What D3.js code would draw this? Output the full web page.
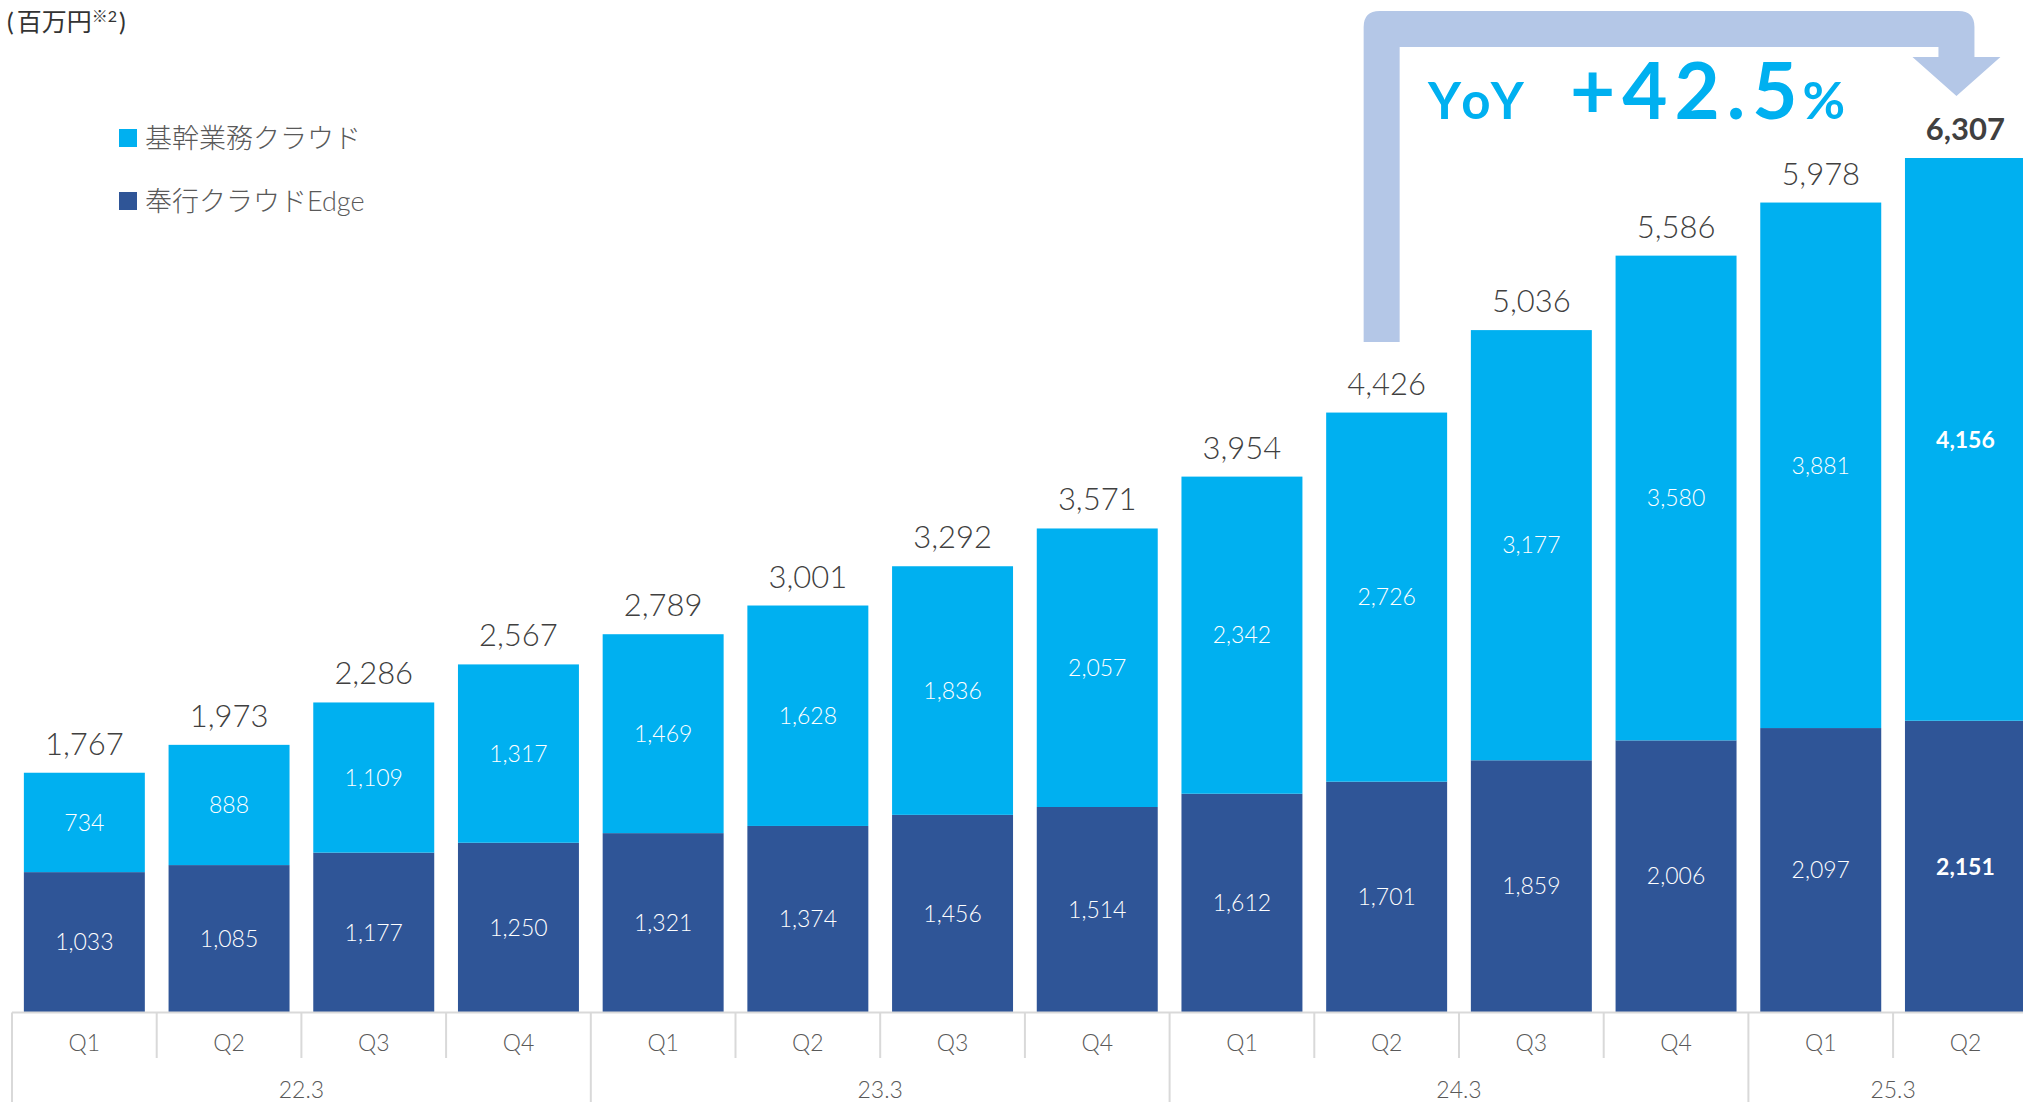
<!DOCTYPE html>
<html><head><meta charset="utf-8">
<script src="https://cdn.jsdelivr.net/npm/d3@7"></script>
<style>
html,body{margin:0;padding:0;background:#fff;overflow:hidden}
svg{display:block}
text{font-family:Lato,"Noto Sans CJK JP",sans-serif}
</style></head><body>
<svg id="c" width="2023" height="1102"></svg>
<script>
const quarters = ["Q1","Q2","Q3","Q4","Q1","Q2","Q3","Q4","Q1","Q2","Q3","Q4","Q1","Q2"];
const fiscalYears = ["22.3","23.3","24.3","25.3"];
const yearCounts = [4,4,4,2];
const edge = [1033,1085,1177,1250,1321,1374,1456,1514,1612,1701,1859,2006,2097,2151];
const kikan = [734,888,1109,1317,1469,1628,1836,2057,2342,2726,3177,3580,3881,4156];
const totals = [1767,1973,2286,2567,2789,3001,3292,3571,3954,4426,5036,5586,5978,6307];
const seriesNames = ["基幹業務クラウド","奉行クラウドEdge"];
const colors = {kikan:"#00B0F0", edge:"#2F5597", arrow:"#B4C7E7"};
const yoyText = {label:"YoY", value:"+42.5", unit:"%"};

(function(){
const svg = d3.select("#c");
const idx = d3.range(quarters.length);
const x = d3.scaleBand().domain(idx).range([12, 12 + 14*144.7]).paddingInner(0.164).paddingOuter(0.082);
const y = d3.scaleLinear().domain([0, 6307]).range([1012, 158]);
const bw = x.bandwidth();
const fmt = d3.format(",");
const last = quarters.length - 1;

const stackData = idx.map(i => ({i, edge: edge[i], kikan: kikan[i]}));
const stack = d3.stack().keys(["edge","kikan"])(stackData);

const g = svg.append("g");
stack.forEach(layer => {
  g.selectAll(null).data(layer).enter().append("rect")
    .attr("x", d => x(d.data.i))
    .attr("y", d => y(d[1]))
    .attr("width", bw)
    .attr("height", d => y(d[0]) - y(d[1]))
    .attr("fill", colors[layer.key]);
  g.selectAll(null).data(layer).enter().append("text")
    .attr("x", d => x(d.data.i) + bw/2)
    .attr("y", d => (y(d[0]) + y(d[1]))/2)
    .attr("dy", "0.36em")
    .attr("text-anchor", "middle")
    .attr("fill", "#fff")
    .attr("font-size", 23)
    .attr("font-weight", d => d.data.i === last ? 700 : 300)
    .text(d => fmt(d.data[layer.key]));
});

g.selectAll(null).data(idx).enter().append("text")
  .attr("x", i => x(i) + bw/2)
  .attr("y", i => y(totals[i]) - 18)
  .attr("text-anchor", "middle")
  .attr("fill", "#404040")
  .attr("font-size", 31)
  .attr("font-weight", i => i === last ? 700 : 300)
  .text(i => fmt(totals[i]));

const step = x.step();
const x0 = x.range()[0];
const axisY = 1012.5;
const ax = svg.append("g");
ax.append("line").attr("x1", x0).attr("x2", 2023).attr("y1", axisY).attr("y2", axisY)
  .attr("stroke", "#D9D9D9").attr("stroke-width", 2);
let yearStarts = [0];
yearCounts.forEach((c,k) => yearStarts.push(yearStarts[k] + c));
idx.concat([quarters.length]).forEach(i => {
  const isYear = yearStarts.includes(i);
  ax.append("line").attr("x1", x0 + i*step).attr("x2", x0 + i*step)
    .attr("y1", axisY).attr("y2", isYear ? 1102 : 1058)
    .attr("stroke", "#D9D9D9").attr("stroke-width", 2);
});
const xAxis = d3.axisBottom(x).tickSize(0).tickFormat(i => quarters[i]);
const axG = svg.append("g").attr("transform", `translate(0,${axisY})`).call(xAxis);
axG.select(".domain").remove();
axG.selectAll("text").attr("font-size", 23).attr("fill", "#595959").attr("font-weight", 300)
  .attr("font-family", "Lato").attr("dy", "0").attr("y", 38);
fiscalYears.forEach((fy,k) => {
  const cx = x0 + (yearStarts[k] + yearCounts[k]/2) * step;
  ax.append("text").attr("x", cx).attr("y", 1098).attr("text-anchor", "middle")
    .attr("font-size", 23).attr("fill", "#595959").attr("font-weight", 300).text(fy);
});

const ut = svg.append("text").attr("x", 7).attr("y", 31).attr("font-size", 25).attr("fill", "#333")
  .attr("font-family", "'Noto Sans CJK JP'");
ut.append("tspan").text("(");
ut.append("tspan").attr("dx", 3).text("百万円");
ut.append("tspan").attr("font-size", 16).attr("dy", -9).text("※2");
ut.append("tspan").attr("dy", 9).attr("dx", 2).text(")");

const leg = svg.append("g");
[["kikan", seriesNames[0], 138], ["edge", seriesNames[1], 201]].forEach(([k, name, cy]) => {
  leg.append("rect").attr("x", 119).attr("y", cy - 9).attr("width", 18).attr("height", 18).attr("fill", colors[k]);
  leg.append("text").attr("x", 145).attr("y", cy).attr("dy", "0.36em").attr("font-size", 27)
    .attr("fill", "#595959").attr("font-family", "'Noto Sans CJK JP'").attr("font-weight", 300).text(name);
});

const ax1 = x(9) + bw/2 - 5;
const ax2 = x(last) + bw/2 - 9;
const th = 36, topY = 11, r = 16, armBottom = 342, headTop = 57, headTip = 96, headHalf = 44;
const L = ax1 - th/2, Li = ax1 + th/2, R = ax2 + th/2, Ri = ax2 - th/2;
const p = d3.path();
p.moveTo(L, armBottom);
p.lineTo(L, topY + r);
p.quadraticCurveTo(L, topY, L + r, topY);
p.lineTo(R - r, topY);
p.quadraticCurveTo(R, topY, R, topY + r);
p.lineTo(R, headTop);
p.lineTo(ax2 + headHalf, headTop);
p.lineTo(ax2, headTip);
p.lineTo(ax2 - headHalf, headTop);
p.lineTo(Ri, headTop);
p.lineTo(Ri, topY + th);
p.lineTo(Li, topY + th);
p.lineTo(Li, armBottom);
p.closePath();
svg.append("path").attr("d", p.toString()).attr("fill", colors.arrow);

const tY = svg.append("text").attr("x", 1428).attr("y", 119).attr("fill", colors.kikan).attr("font-weight", 700)
  .attr("font-family", "Lato");
tY.append("tspan").attr("font-size", 51).attr("letter-spacing", 6).text(yoyText.label);
tY.append("tspan").attr("x", 1570).attr("font-size", 78).attr("letter-spacing", 7).text(yoyText.value);
tY.append("tspan").attr("font-size", 52).attr("dx", -2).text(yoyText.unit);
})();
</script>
</body></html>
